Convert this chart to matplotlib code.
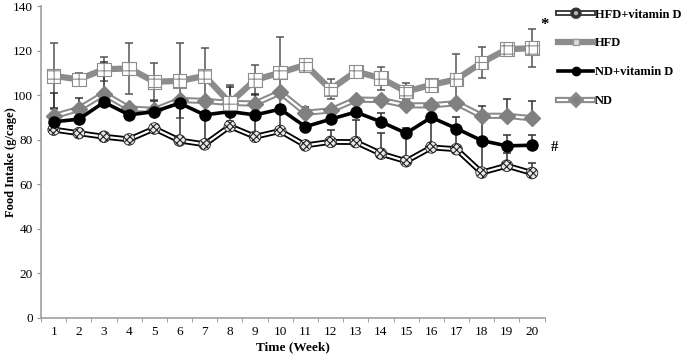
import matplotlib
matplotlib.use("Agg")
import matplotlib.pyplot as plt
import matplotlib.patheffects as pe
from matplotlib.lines import Line2D
import numpy as np

plt.rcParams['font.family'] = ['Liberation Serif', 'DejaVu Serif']
plt.rcParams['hatch.linewidth'] = 0.8

weeks = list(range(1, 21))

# mean food intake (g/cage)
hfd_vitd = [84.5, 82.9, 81.3, 80.1, 85.0, 79.6, 77.9, 86.0, 81.3, 83.9,
            77.4, 79.0, 78.9, 73.7, 70.3, 76.5, 75.7, 65.2, 68.3, 65.0]
hfd = [108.6, 107.1, 111.6, 112.0, 106.0, 106.4, 108.6, 96.5, 106.8, 110.1,
       113.6, 102.6, 110.6, 107.6, 101.6, 104.6, 107.1, 114.6, 120.6, 121.1]
nd_vitd = [88.0, 89.2, 96.8, 91.1, 92.6, 96.4, 91.1, 92.6, 91.1, 93.7,
           85.8, 89.2, 92.4, 88.0, 82.9, 90.0, 85.0, 79.6, 77.2, 77.5]
nd = [90.5, 93.8, 100.6, 94.0, 93.3, 97.8, 97.4, 96.5, 96.2, 101.2,
      92.1, 93.1, 98.0, 97.8, 95.4, 95.4, 96.4, 90.7, 90.7, 89.6]

# error bars (HFD drawn both ways, others upward only)
hfd_err = [14.7, 3.0, 5.4, 11.3, 8.3, 16.9, 12.5, 8.0, 6.8, 16.0,
           0.5, 4.5, 0.5, 5.2, 3.7, 0.5, 11.3, 7.0, 0.5, 8.5]
hfd_vitd_err = [0, 0, 0, 0, 0, 17.0, 13.0, 0, 10.0, 10.0,
                0, 5.3, 10.0, 9.5, 13.0, 13.0, 9.0, 25.5, 5.6, 4.7]
nd_vitd_err = [6.4, 0, 18.0, 0, 4.8, 0, 0, 0, 0, 0,
               0, 3.5, 0, 3.8, 2.5, 0, 5.0, 0, 5.0, 4.5]
nd_err = [10.5, 4.8, 0, 0, 0, 0, 0, 7.0, 4.3, 0,
          2.5, 0, 0, 0, 0, 0, 0, 4.4, 7.6, 7.8]

labels = ["HFD+vitamin D", "HFD", "ND+vitamin D", "ND"]

fig = plt.figure(figsize=(6.85, 3.57), dpi=100)
ax = fig.add_axes([0.060, 0.110, 0.735, 0.873])

zeros = np.zeros(20)
eb = dict(fmt='none', ecolor='#303030', elinewidth=1.1, capsize=3, capthick=1.1, zorder=1)
ax.errorbar(weeks, hfd, yerr=hfd_err, **{**eb, 'ecolor': '#555555'})
ax.errorbar(weeks, hfd_vitd, yerr=[zeros, hfd_vitd_err], **eb)
ax.errorbar(weeks, nd_vitd, yerr=[zeros, nd_vitd_err], **eb)
ax.errorbar(weeks, nd, yerr=[zeros, nd_err], **eb)

# HFD+vitamin D: white line with black outline, checkered circles
ax.plot(weeks, hfd_vitd, color='white', lw=1.6, zorder=2,
        path_effects=[pe.Stroke(linewidth=4.2, foreground='black'), pe.Normal()])
ax.scatter(weeks, hfd_vitd, s=70, marker='o', facecolor='#e8e8e8', edgecolor='#222222',
           hatch='xxxxx', linewidth=0.6, zorder=3)

# ND: white line with gray outline, gray diamonds
ax.plot(weeks, nd, color='white', lw=1.6, zorder=2,
        path_effects=[pe.Stroke(linewidth=4.5, foreground='#8a8a8a'), pe.Normal()])
ax.plot(weeks, nd, ls='none', marker='D', ms=8, color='#808080', zorder=3)

# ND+vitamin D: black line, black circles
ax.plot(weeks, nd_vitd, color='black', lw=2.6, marker='o', ms=8, zorder=4)

# HFD: thick gray line, gridded squares
ax.plot(weeks, hfd, color='#8c8c8c', lw=4.5, zorder=4)
ax.scatter(weeks, hfd, s=95, marker='s', facecolor='white', edgecolor='#8c8c8c',
           hatch='++', linewidth=0.8, zorder=5)

ax.set_xlim(0.5, 20.5)
ax.set_ylim(0, 140)
ax.set_yticks(range(0, 141, 20))
ax.set_xticks(weeks)
ax.set_xticks(np.arange(0.5, 21, 1), minor=True)
ax.tick_params(axis='x', which='major', length=0, pad=6, labelsize=9.5)
ax.tick_params(axis='x', which='minor', length=3, color='#909090', direction='out')
ax.tick_params(axis='y', length=3, color='#909090', labelsize=9.5, pad=3)
for s in ['top', 'right']:
    ax.spines[s].set_visible(False)
for s in ['left', 'bottom']:
    ax.spines[s].set_color('#a0a0a0')
    ax.spines[s].set_linewidth(1.2)

ax.set_xlabel("Time (Week)", fontsize=9.5, fontweight='bold', labelpad=2)
ax.set_ylabel("Food Intake (g/cage)", fontsize=9, fontweight='bold')
ax.yaxis.set_label_coords(-0.048, 0.5)

ax.text(20.35, 131.5, "*", fontsize=12, fontweight='bold', ha='left', va='center')
ax.text(20.75, 76.5, "#", fontsize=10.5, fontweight='bold', ha='left', va='center')

# legend
h1 = Line2D([], [], color='white', lw=1.6, marker='o', ms=4, mfc='#bbbbbb', mec='#333333',
            path_effects=[pe.Stroke(linewidth=4.2, foreground='#333333'), pe.Normal()])
h2 = Line2D([], [], color='#8c8c8c', lw=4.5, marker='s', ms=5, mfc='#dddddd', mec='#999999')
h3 = Line2D([], [], color='black', lw=2.6, marker='o', ms=6)
h4 = Line2D([], [], color='white', lw=1.6, marker='D', ms=4, mfc='#808080', mec='#808080',
            path_effects=[pe.Stroke(linewidth=4.5, foreground='#8a8a8a'), pe.Normal()])
fig.legend([h1, h2, h3, h4], labels, loc='upper left', bbox_to_anchor=(0.808, 0.99),
           frameon=False, prop={'weight': 'bold', 'size': 9}, handlelength=2.8,
           handletextpad=0.1, labelspacing=1.35, borderaxespad=0)

fig.savefig("out.png", dpi=100)
